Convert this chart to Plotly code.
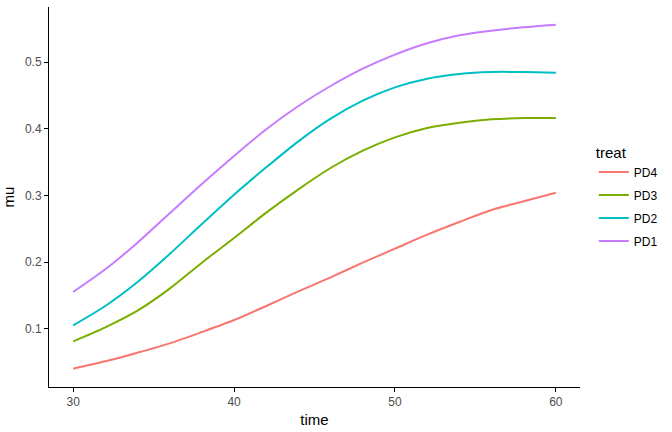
import plotly.graph_objects as go

time = [30, 32, 34, 36, 38, 40, 42, 44, 46, 48, 50, 52, 54, 56, 58, 60]
pd4 = [0.040, 0.051, 0.064, 0.078, 0.095, 0.113, 0.134, 0.156, 0.177, 0.199, 0.220, 0.241, 0.260, 0.278, 0.291, 0.304]
pd3 = [0.081, 0.102, 0.127, 0.160, 0.199, 0.236, 0.274, 0.309, 0.341, 0.367, 0.387, 0.401, 0.409, 0.414, 0.416, 0.416]
pd2 = [0.105, 0.134, 0.170, 0.212, 0.257, 0.301, 0.342, 0.381, 0.415, 0.442, 0.462, 0.475, 0.482, 0.485, 0.485, 0.484]
pd1 = [0.155, 0.189, 0.229, 0.273, 0.317, 0.359, 0.399, 0.434, 0.464, 0.490, 0.511, 0.528, 0.540, 0.547, 0.552, 0.556]

treats = ['PD4', 'PD3', 'PD2', 'PD1']
series = [pd4, pd3, pd2, pd1]
colors = ['#F8766D', '#7CAE00', '#00BFC4', '#C77CFF']

fig = go.Figure()
for name, vals, col in zip(treats, series, colors):
    fig.add_trace(go.Scatter(x=time, y=vals, mode='lines', name=name, legendgroup=name,
                             line=dict(color=col, width=2, shape='spline', smoothing=0.8)))

axis_style = dict(showline=True, linecolor='black', linewidth=1,
                  ticks='outside', ticklen=4, tickcolor='black',
                  tickfont=dict(size=12, color='#4D4D4D'),
                  showgrid=False, zeroline=False,
                  title_font=dict(size=15, color='black'))

fig.update_layout(
    width=672, height=432,
    plot_bgcolor='white', paper_bgcolor='white',
    font=dict(family='Liberation Sans, Arial, sans-serif'),
    margin=dict(l=49, r=92, t=7, b=45),
    xaxis=dict(title=dict(text='time', standoff=6), range=[28.5, 61.5],
               tickvals=[30, 40, 50, 60], **axis_style),
    yaxis=dict(title=dict(text='mu', standoff=8), range=[0.0125, 0.5825],
               tickvals=[0.1, 0.2, 0.3, 0.4, 0.5], **axis_style),
    legend=dict(title=dict(text='treat', font=dict(size=15, color='black')),
                font=dict(size=12, color='black'),
                x=1.026, y=0.655, yanchor='top', itemwidth=30,
                tracegroupgap=4),
)

fig.write_html("out.html", config={'displayModeBar': False},
               post_script="document.body.style.margin='0';")
